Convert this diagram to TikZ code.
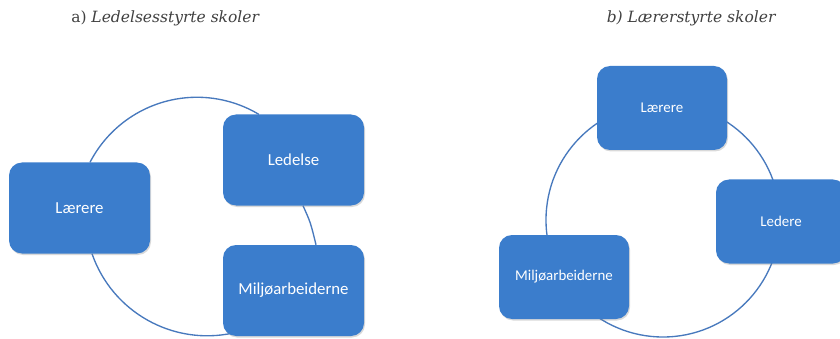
\documentclass[tikz,border=0pt]{standalone}
\usepackage{fontspec}
\setmainfont{Liberation Serif}
\newfontfamily\boxfont{Carlito}
\newfontfamily\titlefont{DejaVu Serif}
\usetikzlibrary{shadows,calc}
\definecolor{boxblue}{RGB}{59,125,204}
\definecolor{ringblue}{RGB}{72,121,189}
\definecolor{titlegray}{RGB}{64,64,64}
\pgfdeclarelayer{bg}
\pgfsetlayers{bg,main}
\begin{document}
\begin{tikzpicture}[x=1pt,y=-1pt,
  box/.style={fill=boxblue, rounded corners=13pt, draw=none, text=white, inner sep=0pt,
    drop shadow={shadow xshift=1pt,shadow yshift=-1.5pt,opacity=0.3}},
  bigbox/.style={box, minimum width=141pt, minimum height=91pt, font=\boxfont\fontsize{16.8}{20}\selectfont},
  smallbox/.style={box, minimum width=130pt, minimum height=84pt, font=\boxfont\fontsize{14.9}{18}\selectfont},
  ring/.style={draw=ringblue, line width=1.35pt},
  title/.style={text=titlegray, anchor=base, inner sep=0pt, font=\titlefont\fontsize{15.5}{18}\selectfont}]
\useasboundingbox (0,0) rectangle (840,339);
% titles
\node[title] (tA) at (165.5,23) {a) \textit{Ledelsesstyrte skoler}};
\node[title] (tB) at (691.5,23) {\textit{b) Lærerstyrte skoler}};
% a) boxes
\node[bigbox] (laerA) at (79.5,208) {Lærere};
\node[bigbox] (ledA) at (293.5,160) {Ledelse};
\node[bigbox] (miljA) at (293.5,290.5) {Miljøarbeiderne};
% b) boxes
\node[smallbox] (laerB) at (662,108) {Lærere};
\node[smallbox] (ledB) at (781,221.5) {Ledere};
\node[smallbox] (miljB) at (564,277) {Miljøarbeiderne};
\coordinate (ctrB) at (663,220);
\begin{pgfonlayer}{bg}
\draw[ring] ([xshift=10.5pt]laerA.north) arc[start angle=-152.6, end angle=-59.1, radius=120.5];
\draw[ring] ([xshift=9.5pt]ledA.south) .. controls +(7.5,16.6) .. ([xshift=22.5pt]miljA.north);
\draw[ring] ([xshift=12.5pt]laerA.south) arc[start angle=160.9, end angle=78, radius=122];
\draw[ring] (ctrB) circle[radius=117];
\end{pgfonlayer}
\end{tikzpicture}
\end{document}
